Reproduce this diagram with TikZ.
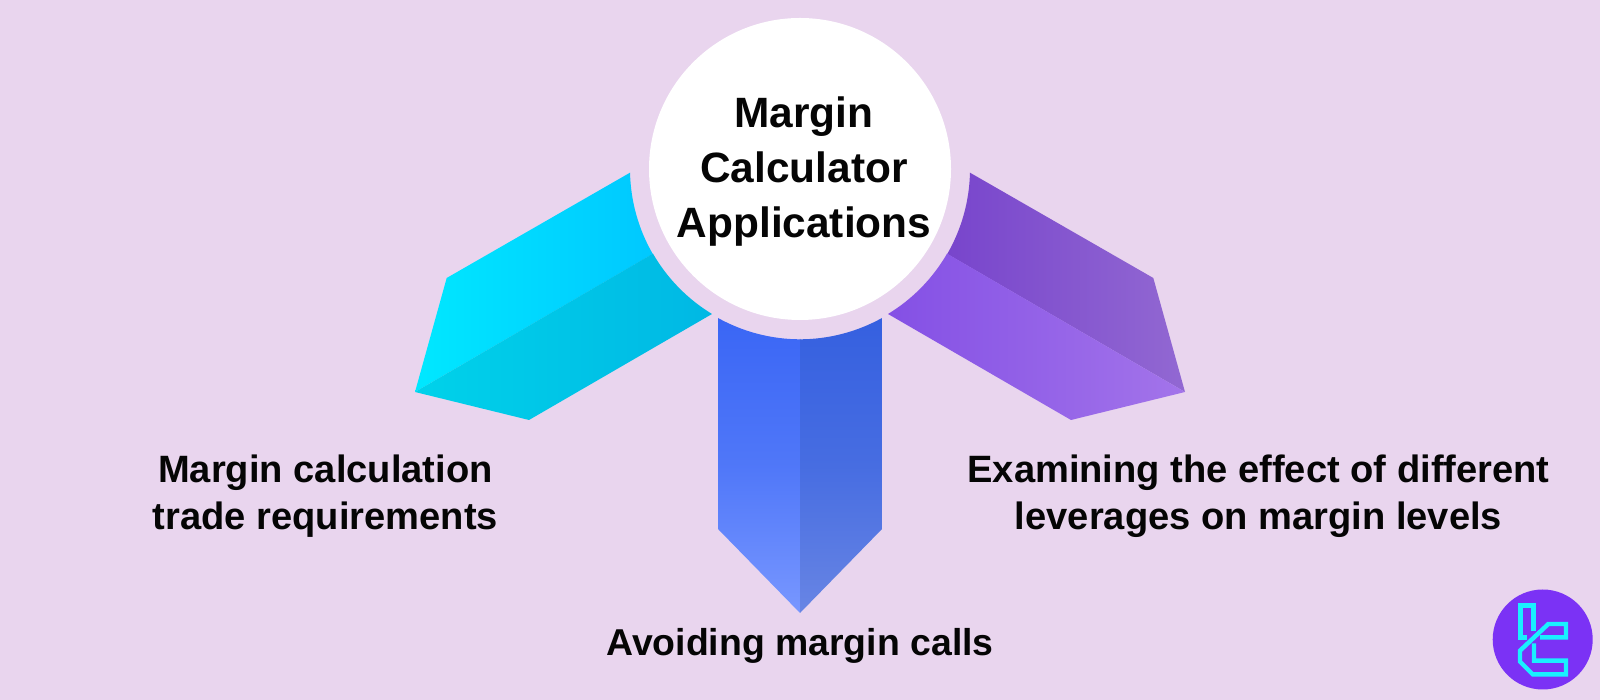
\documentclass[tikz,border=0pt]{standalone}
\usepackage{fontspec}
\setmainfont{Liberation Sans}
\definecolor{bgc}{HTML}{E9D5EE}
\definecolor{logoP}{HTML}{7B32F5}
\definecolor{logoC}{HTML}{19F0FF}
\definecolor{cyA}{HTML}{00E8FF}\definecolor{cyB}{HTML}{00C8FF}
\definecolor{cyC}{HTML}{00D2EA}\definecolor{cyD}{HTML}{00B8E4}
\definecolor{puA}{HTML}{7845CC}\definecolor{puB}{HTML}{9268D2}
\definecolor{puC}{HTML}{8450E5}\definecolor{puD}{HTML}{A374EA}
\definecolor{blA}{HTML}{3A66F5}\definecolor{blB}{HTML}{7897FF}
\definecolor{blC}{HTML}{3560E0}\definecolor{blD}{HTML}{6885E4}
\definecolor{txt}{HTML}{050505}
\tikzset{
  sidetext/.style={font=\fontsize{38.1}{47.5}\selectfont\bfseries,align=center,text=txt,inner sep=0pt,anchor=center},
  midtext/.style={font=\fontsize{37.4}{47.5}\selectfont\bfseries,align=center,text=txt,inner sep=0pt,anchor=center},
  titletext/.style={font=\fontsize{42.4}{55}\selectfont\bfseries,align=center,text=txt,inner sep=0pt,anchor=center},
  logoline/.style={draw=logoC,line width=4.4pt,line join=miter}
}
\begin{document}
\begin{tikzpicture}[x=1pt,y=1pt]
\fill[bgc] (0,0) rectangle (1600,700);
\useasboundingbox (0,0) rectangle (1600,700);
\coordinate (cc) at (800,531);
% left arrow
\shade[left color=cyA,right color=cyB]
  (630,527.3) -- (446.7,422) -- (415,308) -- ([shift={(210:170pt)}]cc) arc[start angle=210,end angle=181.2,radius=170pt] -- cycle;
\shade[left color=cyC,right color=cyD]
  (415,308) -- (529,280) -- (712,386) arc[start angle=238.75,end angle=210,radius=170pt] -- cycle;
% right arrow
\shade[left color=puA,right color=puB]
  (970,527.3) -- (1153.3,422) -- (1185,308) -- ([shift={(330:170pt)}]cc) arc[start angle=330,end angle=358.8,radius=170pt] -- cycle;
\shade[left color=puC,right color=puD]
  (1185,308) -- (1071,280) -- (888,386) arc[start angle=301.25,end angle=330,radius=170pt] -- cycle;
% centre arrow
\shade[top color=blA,bottom color=blB,middle color=blA!65!blB]
  (800,361) -- (800,87) -- (718,171) -- (718,382) arc[start angle=241,end angle=270,radius=170pt] -- cycle;
\shade[top color=blC,bottom color=blD,middle color=blC!65!blD]
  (800,361) -- (800,87) -- (882,171) -- (882,382) arc[start angle=299,end angle=270,radius=170pt] -- cycle;
% circle and texts
\node[circle,fill=white,minimum size=302pt,inner sep=0pt] (hub) at (cc) {};
\node[titletext] (title) at (804,528) {Margin\\Calculator\\Applications};
\node[sidetext] (left) at (325.5,204) {Margin calculation\\trade requirements};
\node[sidetext] (right) at (1258.5,204) {Examining the effect of different\\leverages on margin levels};
\node[midtext] (mid) at (800,54) {Avoiding margin calls};
% logo
\node[circle,fill=logoP,minimum size=100pt,inner sep=0pt] (logo) at (1542.7,60.5) {};
\begin{scope}[shift={(1440,140)},x=0.3333pt,y=-0.3333pt]
  \draw[logoline] (262,232) -- (241,232) -- (241,136) -- (281,136) -- (281,214);
  \draw[logoline] (300,232) -- (378,232) -- (378,192) -- (325,192) -- (240,272) -- (240,305) -- (278,343) -- (378,343) -- (378,302) -- (282,302) -- (282,250);
\end{scope}
\end{tikzpicture}
\end{document}
